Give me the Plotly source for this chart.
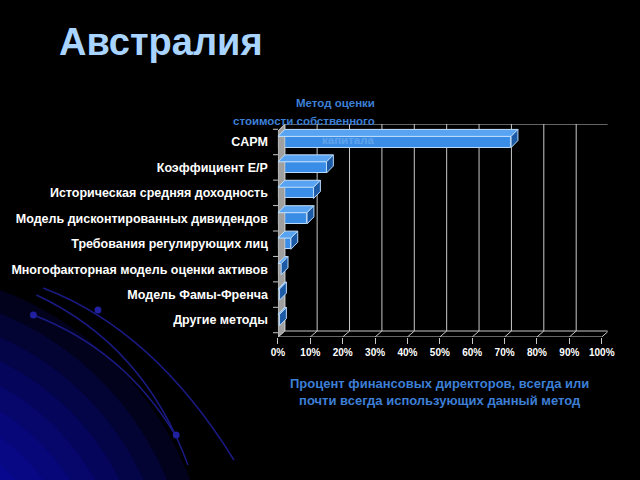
import plotly.graph_objects as go

# данные
metody = ['CAPM', 'Коэффициент E/P', 'Историческая средняя доходность',
          'Модель дисконтированных дивидендов', 'Требования регулирующих лиц',
          'Многофакторная модель оценки активов', 'Модель Фамы-Френча', 'Другие методы']
procent = [72, 15, 11, 9, 4, 1, 0.5, 0.5]
x_ticks = [0, 10, 20, 30, 40, 50, 60, 70, 80, 90, 100]
x_tick_labels = [f'{t}%' for t in x_ticks]

W, H = 640, 480
# геометрия "3D"
dx = 2.11      # глубина по x (в %)
dy = 0.275     # глубина по y (в категориях)
hw = 0.22      # половина толщины бара
y_bottom = 7.668
y_top = -0.708
y_back = y_bottom - 0.236

pos = list(range(len(metody)))

fig = go.Figure()

# левая стенка
fig.add_trace(go.Scatter(x=[0, dx, dx, 0, 0], y=[y_bottom, y_back, y_top, y_top + dy, y_bottom],
                         fill='toself', fillcolor='#a0a0a0', line=dict(color='#c8c8c8', width=1),
                         mode='lines', hoverinfo='skip', showlegend=False))

# передняя грань баров
fig.add_trace(go.Bar(x=procent, y=pos, orientation='h', width=2 * hw,
                     marker=dict(color='#3a8de6', line=dict(color='#b8dafc', width=1)),
                     showlegend=False))

# верхняя и боковая грани
top_x, top_y, side_x, side_y = [], [], [], []
for p, v in zip(pos, procent):
    top_x += [0, v, v + dx, dx, 0, None]
    top_y += [p - hw, p - hw, p - hw - dy, p - hw - dy, p - hw, None]
    side_x += [v, v + dx, v + dx, v, v, None]
    side_y += [p - hw, p - hw - dy, p + hw - dy, p + hw, p - hw, None]
fig.add_trace(go.Scatter(x=top_x, y=top_y, fill='toself', fillcolor='#58a4f2',
                         line=dict(color='#c4e0fc', width=1), mode='lines',
                         hoverinfo='skip', showlegend=False))
fig.add_trace(go.Scatter(x=side_x, y=side_y, fill='toself', fillcolor='#1d5aa6',
                         line=dict(color='#b8dafc', width=1), mode='lines',
                         hoverinfo='skip', showlegend=False))

shapes = []
# синее свечение внизу слева
for i in range(14):
    r = 330 - i * 22
    cx, cy = -120, 600
    shapes.append(dict(type='circle', xref='paper', yref='paper', layer='below',
                       x0=(cx - r) / W, x1=(cx + r) / W, y0=1 - (cy + r) / H, y1=1 - (cy - r) / H,
                       fillcolor='rgba(15,15,215,0.13)', line=dict(width=0)))
# дуги
def pth(pts):
    (x0, y0), (x1, y1), (x2, y2) = pts
    f = lambda x, y: f'{x / W:.4f},{1 - y / H:.4f}'
    return f'M{f(x0, y0)} Q{f(x1, y1)} {f(x2, y2)}'
for pts in [[(37, 288), (150, 330), (232, 460)],
            [(30, 295), (140, 345), (185, 465)],
            [(27, 315), (120, 350), (172, 435)]]:
    shapes.append(dict(type='path', xref='paper', yref='paper', layer='below',
                       path=pth(pts), line=dict(color='#1a1a84', width=1.5)))
for (cx, cy) in [(93, 310), (27, 315), (173, 435)]:
    shapes.append(dict(type='circle', xref='paper', yref='paper', layer='below',
                       x0=(cx - 3.5) / W, x1=(cx + 3.5) / W, y0=1 - (cy + 3.5) / H, y1=1 - (cy - 3.5) / H,
                       fillcolor='#2020a0', line=dict(width=0)))

grid = dict(color='#c8c8c8', width=1)
# сетка, пол
for t in x_ticks:
    shapes.append(dict(type='line', xref='x', yref='y', x0=t + dx, x1=t + dx, y0=y_back, y1=y_top,
                       line=grid, layer='below'))
    shapes.append(dict(type='line', xref='x', yref='y', x0=t, x1=t + dx, y0=y_bottom, y1=y_back,
                       line=grid, layer='below'))
shapes.append(dict(type='line', xref='x', yref='y', x0=0, x1=100, y0=y_bottom, y1=y_bottom, line=grid))
shapes.append(dict(type='line', xref='x', yref='y', x0=dx, x1=100 + dx, y0=y_back, y1=y_back, line=grid, layer='below'))
shapes.append(dict(type='line', xref='x', yref='y', x0=dx, x1=100 + dx, y0=y_top, y1=y_top, line=grid, layer='below'))
# засечки по y
for k in range(len(metody) + 1):
    yk = min(k - 0.5, y_bottom)
    shapes.append(dict(type='line', xref='paper', yref='y', x0=272 / W, x1=277 / W, y0=yk, y1=yk, line=grid))

fnt = 'Liberation Sans, Arial, sans-serif'
blue = '#3d7fd6'
def txt(s, x, y, size, color, xa='center', **kw):
    return dict(text=s, x=x / W, y=1 - y / H, xref='paper', yref='paper', showarrow=False,
                xanchor=xa, yanchor='middle',
                font=dict(family=fnt, size=size, color=color, weight='bold'), **kw)

ann = [
    txt('Австралия', 157, 42, 38, '#a8d4ff'),
    txt('Метод оценки', 378, 103, 11.5, blue, xa='right'),
    txt('стоимости собственного', 378, 121, 11.5, blue, xa='right'),
    txt('капитала', 378, 140, 11.5, '#cfe6ff', xa='right', opacity=0.25),
    txt('Процент финансовых директоров, всегда или<br>почти всегда использующих данный метод',
        442, 392, 13, blue),
]

fig.update_layout(
    width=W, height=H, margin=dict(l=0, r=0, t=0, b=0),
    paper_bgcolor='black', plot_bgcolor='rgba(0,0,0,0)',
    shapes=shapes, annotations=ann, bargap=0,
    xaxis=dict(domain=[277 / W, 614 / W], range=[0, 101.8], tickvals=x_ticks, ticktext=x_tick_labels,
               showgrid=False, zeroline=False, showline=False, ticks='outside', ticklen=6,
               tickcolor='#c8c8c8', tickfont=dict(family=fnt, size=10, color='white', weight='bold')),
    yaxis=dict(domain=[1 - 337 / H, 1 - 124 / H], range=[y_bottom, y_top], tickvals=pos, ticktext=metody,
               showgrid=False, zeroline=False, showline=False, ticks='', ticklabelstandoff=9,
               tickfont=dict(family=fnt, size=12.5, color='white', weight='bold')),
)

fig.write_html('out.html', config={'displayModeBar': False},
               post_script="document.body.style.margin='0';")
